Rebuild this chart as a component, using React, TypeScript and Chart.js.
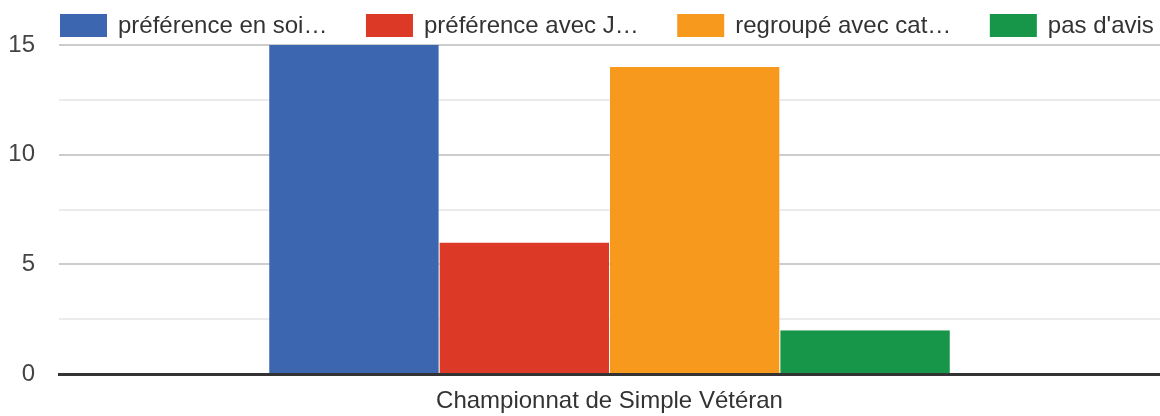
import React, { useEffect, useRef } from "react";
import { Chart, registerables } from "chart.js";

Chart.register(...registerables);

const categories = ["Championnat de Simple Vétéran"];
const seriesNames = ["préférence en soi…", "préférence avec J…", "regroupé avec cat…", "pas d'avis"];
const seriesValues = [[15], [6], [14], [2]];
const seriesColors = ["#3c67b0", "#dc3926", "#f7991d", "#17964a"];
const yTicks = [0, 5, 10, 15];

const FONT = "Arial, 'Liberation Sans', sans-serif";
const FS = 24;

const legendPlugin = {
  id: "customLegend",
  afterDraw(chart: any) {
    const ctx = chart.ctx;
    ctx.save();
    ctx.font = `${FS}px ${FONT}`;
    ctx.textBaseline = "middle";
    ctx.textAlign = "left";
    let x = 60;
    const boxW = 47;
    const boxH = 23;
    const yTop = 14;
    chart.data.datasets.forEach((ds: any) => {
      ctx.fillStyle = ds.backgroundColor;
      ctx.fillRect(x, yTop, boxW, boxH);
      x += boxW + 11;
      ctx.fillStyle = "#333333";
      ctx.fillText(ds.label, x, yTop + boxH / 2 + 1);
      x += ctx.measureText(ds.label).width + 38.5;
    });
    ctx.restore();
  },
};

export default function App() {
  const ref = useRef<HTMLCanvasElement>(null);
  useEffect(() => {
    document.body.style.margin = "0";
    const chart = new Chart(ref.current as HTMLCanvasElement, {
      type: "bar",
      data: {
        labels: categories,
        datasets: seriesNames.map((name, i) => ({
          label: name,
          data: seriesValues[i],
          backgroundColor: seriesColors[i],
          borderColor: "#ffffff",
          borderWidth: { left: 0.5, right: 0.5, top: 0, bottom: 0 },
          borderSkipped: false,
          barPercentage: 1,
          categoryPercentage: 0.619,
        })),
      },
      options: {
        responsive: false,
        animation: false,
        maintainAspectRatio: false,
        layout: { padding: { top: 45, right: 0, left: 0, bottom: 0 } },
        plugins: {
          legend: { display: false },
          tooltip: { enabled: false },
        },
        scales: {
          x: {
            z: 1,
            grid: { display: false, drawTicks: false },
            border: { display: true, color: "#333333", width: 3 },
            ticks: { color: "#333333", font: { family: FONT, size: FS }, padding: 13 },
            afterFit: (s: any) => {
              s.height = 42;
            },
          },
          y: {
            min: 0,
            max: 15,
            afterBuildTicks: (s: any) => {
              const t: any[] = [];
              for (let i = 0; i < yTicks.length; i++) {
                t.push({ value: yTicks[i] });
                if (i < yTicks.length - 1) t.push({ value: (yTicks[i] + yTicks[i + 1]) / 2 });
              }
              s.ticks = t;
            },
            grid: {
              drawTicks: false,
              lineWidth: 2,
              color: (c: any) => {
                const v = c.tick ? c.tick.value : 0;
                if (v === 0) return "rgba(0,0,0,0)";
                return v % 5 === 0 ? "#cccccc" : "#ebebeb";
              },
            },
            border: { display: false },
            ticks: {
              color: "#444444",
              font: { family: FONT, size: FS },
              padding: 24,
              callback: (v: any) => (Number(v) % 5 === 0 ? String(v) : ""),
            },
            afterFit: (s: any) => {
              s.width = 59;
            },
          },
        },
      },
      plugins: [legendPlugin],
    });
    return () => chart.destroy();
  }, []);
  return (
    <div style={{ width: 1160, height: 416 }}>
      <canvas ref={ref} width={1160} height={416} style={{ display: "block" }} />
    </div>
  );
}
